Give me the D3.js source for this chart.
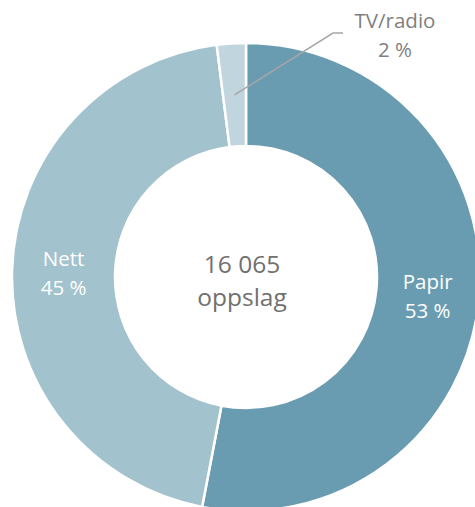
<!DOCTYPE html>
<html>
<head>
<meta charset="utf-8">
<script src="https://d3js.org/d3.v7.min.js"></script>
<style>
  body { margin: 0; background: #fff; }
  text { font-family: "Open Sans", sans-serif; }
</style>
</head>
<body>
<div id="chart"></div>
<script>
// data
var categories = ["Papir", "Nett", "TV/radio"];
var shares = [53, 45, 2];
var colors = ["#699cb1", "#a2c2ce", "#c0d5de"];
var totalLabel = ["16 065", "oppslag"];

var svgWidth = 475;
var svgHeight = 507;
var cx = 246, cy = 277;
var outerR = 234, innerR = 131;

var svg = d3.select("#chart")
  .append("svg")
  .attr("width", svgWidth)
  .attr("height", svgHeight);

var g = svg.append("g")
  .attr("transform", `translate(${cx}, ${cy})`);

var pie = d3.pie().sort(null).value(d => d.value);
var arc = d3.arc().innerRadius(innerR).outerRadius(outerR);

var data = categories.map((c, i) => ({ name: c, value: shares[i], color: colors[i] }));
var arcs = pie(data);

g.selectAll("path")
  .data(arcs)
  .enter()
  .append("path")
  .attr("d", arc)
  .attr("fill", d => d.data.color)
  .attr("stroke", "#fff")
  .attr("stroke-width", 2.5);

// inside labels for big slices
arcs.slice(0, 2).forEach(function(d) {
  var c = arc.centroid(d);
  var t = g.append("text")
    .attr("text-anchor", "middle")
    .attr("fill", "#fff")
    .attr("font-size", "20.5px");
  t.append("tspan").attr("x", c[0]).attr("y", c[1] - 5).text(d.data.name);
  t.append("tspan").attr("x", c[0]).attr("y", c[1] + 24).text(d.data.value + " %");
});

// TV/radio label with leader line
var tv = arcs[2];
var p0 = arc.centroid(tv);
var p1 = [333 - cx, 33 - cy];
var p2 = [343 - cx, 33 - cy];
g.append("polyline")
  .attr("points", [p0, p1, p2].map(p => p.join(",")).join(" "))
  .attr("fill", "none")
  .attr("stroke", "#a6a6a6")
  .attr("stroke-width", 1.5);

var tvText = g.append("text")
  .attr("text-anchor", "middle")
  .attr("fill", "#7f7f7f")
  .attr("font-size", "20.5px");
tvText.append("tspan").attr("x", 395 - cx).attr("y", 28 - cy).text(tv.data.name);
tvText.append("tspan").attr("x", 395 - cx).attr("y", 57 - cy).text(tv.data.value + " %");

// center total, two separate lines
g.append("text")
  .attr("text-anchor", "middle")
  .attr("fill", "#707070")
  .attr("font-size", "24.5px")
  .attr("x", -4)
  .attr("y", -4)
  .text(totalLabel[0]);
g.append("text")
  .attr("text-anchor", "middle")
  .attr("fill", "#707070")
  .attr("font-size", "24.5px")
  .attr("x", -4)
  .attr("y", 29)
  .text(totalLabel[1]);
</script>
</body>
</html>
